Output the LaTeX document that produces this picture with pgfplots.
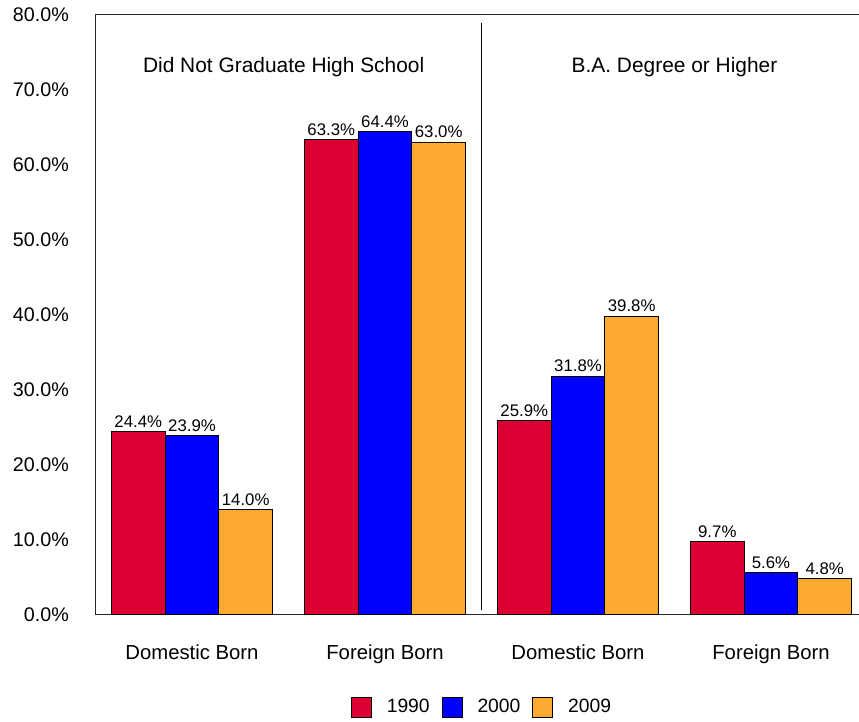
\documentclass[border=0pt]{standalone}
\usepackage{pgfplots}
\pgfplotsset{compat=1.18}
\usepackage{fontspec}
\setmainfont{Liberation Sans}

\definecolor{c1990}{RGB}{220,0,50}
\definecolor{c2000}{RGB}{0,0,255}
\definecolor{c2009}{RGB}{254,170,48}

\begin{document}
\begin{tikzpicture}
\begin{axis}[
  at={(95.5pt,106.5pt)}, anchor=south west,
  width=763.5pt, height=600pt, scale only axis,
  xmin=-0.5, xmax=3.456, ymin=0, ymax=80,
  axis x line*=bottom, axis y line*=left,
  axis line style={black!85, line width=1pt},
  major tick length=0pt,
  ytick={0,10,...,80},
  /pgf/number format/assume math mode=true,
  yticklabel={\pgfmathprintnumber[fixed,fixed zerofill,precision=1]{\tick}\%},
  yticklabel style={anchor=east, inner sep=0pt, xshift=-26.5pt, font=\fontsize{19.7}{23}\selectfont},
  xtick={0,1,2,3},
  xticklabels={Domestic Born, Foreign Born, Domestic Born, Foreign Born},
  xticklabel style={anchor=north, inner sep=0pt, yshift=-30pt, font=\fontsize{20.3}{24}\selectfont},
  ybar=0pt, bar width=53.7pt,
  every axis plot/.append style={draw=black, line width=0.8pt},
  nodes near coords={\pgfmathprintnumber[fixed,fixed zerofill,precision=1]{\pgfplotspointmeta}\%},
  every node near coord/.append style={anchor=south, inner sep=0pt, yshift=3.5pt, font=\fontsize{16.8}{20}\selectfont, black},
  clip=false,
  legend columns=3,
  legend style={at={(0.505,-0.154)}, anchor=center, draw=none, fill=none,
    font=\fontsize{19.3}{23}\selectfont,
    nodes={inner sep=0pt},
    /tikz/every even column/.append style={column sep=12pt},
    /tikz/every odd column/.append style={column sep=15pt}},
  legend image code/.code={\draw[#1, draw=black, line width=0.8pt] (0pt,-10pt) rectangle (20pt,10pt);},
]
\addplot[fill=c1990] coordinates {(0,24.4) (1,63.3) (2,25.9) (3,9.7)};
\addplot[fill=c2000] coordinates {(0,23.9) (1,64.4) (2,31.8) (3,5.6)};
\addplot[fill=c2009] coordinates {(0,14.0) (1,63.0) (2,39.8) (3,4.8)};
\legend{1990, 2000, 2009}

\draw[black!85, line width=1pt] (rel axis cs:0,1) -- (rel axis cs:1,1);
\draw[black, line width=1.3pt] (axis cs:1.5,0.6) -- (axis cs:1.5,78.9);
\node[font=\fontsize{20.9}{25}\selectfont] at (axis cs:0.475,73.0) {Did Not Graduate High School};
\node[font=\fontsize{20.9}{25}\selectfont] at (axis cs:2.5,73.0) {B.A. Degree or Higher};
\end{axis}
\pgfresetboundingbox
\path[use as bounding box] (0,0) rectangle (859pt,721pt);
\end{tikzpicture}
\end{document}
